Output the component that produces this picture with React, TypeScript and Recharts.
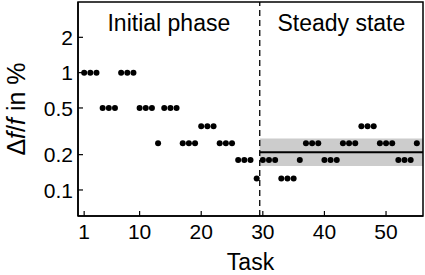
import { ScatterChart, Scatter, XAxis, YAxis, ReferenceArea, ReferenceLine } from 'recharts';

// task index and relative frequency error (in %)
const tasks = [
  1, 2, 3, 4, 5, 6, 7, 8, 9, 10, 11, 12, 13, 14, 15, 16, 17, 18, 19, 20,
  21, 22, 23, 24, 25, 26, 27, 28, 29, 30, 31, 32, 33, 34, 35, 36, 37, 38, 39, 40,
  41, 42, 43, 44, 45, 46, 47, 48, 49, 50, 51, 52, 53, 54, 55,
];
const errors = [
  1, 1, 1, 0.5, 0.5, 0.5, 1, 1, 1, 0.5, 0.5, 0.5, 0.25, 0.5, 0.5, 0.5, 0.25, 0.25, 0.25, 0.35,
  0.35, 0.35, 0.25, 0.25, 0.25, 0.18, 0.18, 0.18, 0.125, 0.18, 0.18, 0.18, 0.125, 0.125, 0.125, 0.18, 0.25, 0.25, 0.25, 0.18,
  0.18, 0.18, 0.25, 0.25, 0.25, 0.35, 0.35, 0.35, 0.25, 0.25, 0.25, 0.18, 0.18, 0.18, 0.25,
];
const xTicks = [1, 10, 20, 30, 40, 50];
const yTicks = [0.1, 0.2, 0.5, 1, 2];
const phaseSplit = 29.5;
const steadyLevel = 0.21;
const steadyLow = 0.16;
const steadyHigh = 0.275;

const points = tasks.map((t, i) => ({ task: t, err: errors[i] }));

const FONT = '"Liberation Sans", Arial, Helvetica, sans-serif';

function XTick({ x, y, payload }: any) {
  return (
    <g>
      <line x1={x} y1={y} x2={x} y2={y - 5} stroke="#000" strokeWidth={1.2} />
      <text x={x} y={y + 23} textAnchor="middle" fontSize={21} fill="#000" fontFamily={FONT}>
        {payload.value}
      </text>
    </g>
  );
}

function YTick({ x, y, payload }: any) {
  return (
    <g>
      <line x1={x} y1={y} x2={x + 5} y2={y} stroke="#000" strokeWidth={1.2} />
      <text x={x - 5} y={y} dy="0.36em" textAnchor="end" fontSize={21} fill="#000" fontFamily={FONT}>
        {payload.value}
      </text>
    </g>
  );
}

function Dot({ cx, cy }: any) {
  return <circle cx={cx} cy={cy} r={3} fill="#000" />;
}

export default function App() {
  return (
    <div style={{ position: 'absolute', left: 0, top: 0, background: '#fff', fontFamily: FONT }}>
      <ScatterChart width={425} height={275} margin={{ top: 2, right: 2, bottom: 0, left: 0 }}>
        <XAxis
          type="number"
          dataKey="task"
          domain={[0, 56]}
          ticks={xTicks}
          tickSize={0}
          tickMargin={0}
          tick={<XTick />}
          height={59}
          stroke="#000"
          strokeWidth={1.5}
          label={{ value: 'Task', position: 'insideBottom', offset: 5, fontSize: 23, fill: '#000', fontFamily: FONT }}
        />
        <YAxis
          type="number"
          dataKey="err"
          scale="log"
          domain={[0.06, 4]}
          allowDataOverflow
          ticks={yTicks}
          tickSize={0}
          tickMargin={0}
          tick={<YTick />}
          width={78}
          stroke="#000"
          strokeWidth={1.5}
          label={{
            content: ({ viewBox }: any) => {
              const cx = 25;
              const cy = viewBox.y + viewBox.height / 2;
              return (
                <text x={cx} y={cy} transform={`rotate(-90 ${cx} ${cy})`} textAnchor="middle" fontSize={25} fill="#000" fontFamily={FONT}>
                  Δ<tspan fontStyle="italic">f</tspan>/<tspan fontStyle="italic">f</tspan> in %
                </text>
              );
            },
          }}
        />
        <ReferenceArea
          x1={0}
          x2={phaseSplit}
          y1={0.06}
          y2={4}
          fill="none"
          stroke="none"
          label={{ value: 'Initial phase', position: 'insideTop', offset: 13, fontSize: 23, fill: '#000', fontFamily: FONT }}
        />
        <ReferenceArea
          x1={phaseSplit}
          x2={56}
          y1={0.06}
          y2={4}
          fill="none"
          stroke="none"
          label={{ value: 'Steady state', position: 'insideTop', offset: 13, fontSize: 23, fill: '#000', fontFamily: FONT }}
        />
        <ReferenceArea x1={phaseSplit} x2={56} y1={steadyLow} y2={steadyHigh} fill="#cccccc" fillOpacity={1} stroke="none" />
        <ReferenceLine
          segment={[
            { x: phaseSplit, y: steadyLevel },
            { x: 56, y: steadyLevel },
          ]}
          stroke="#000"
          strokeWidth={2}
        />
        <ReferenceLine x={phaseSplit} stroke="#000" strokeWidth={1.3} strokeDasharray="6 4" />
        <ReferenceArea x1={0} x2={56} y1={0.06} y2={4} fill="none" stroke="#000" strokeWidth={1.5} />
        <Scatter data={points} shape={<Dot />} isAnimationActive={false} />
      </ScatterChart>
    </div>
  );
}
